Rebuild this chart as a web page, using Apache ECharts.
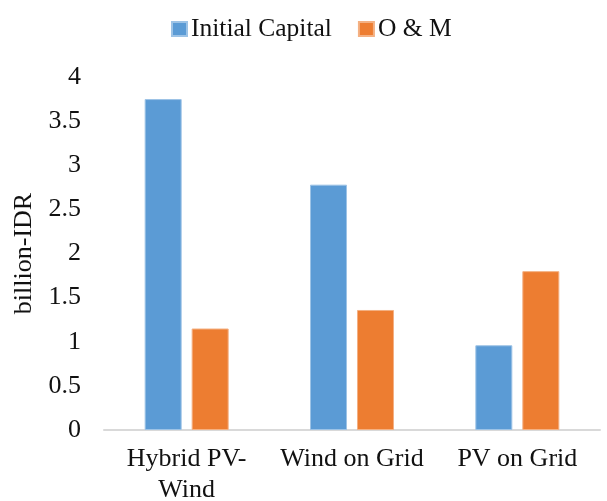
<!DOCTYPE html>
<html>
<head>
<meta charset="utf-8">
<script src="https://cdn.jsdelivr.net/npm/echarts@6/dist/echarts.min.js"></script>
<style>html,body{margin:0;padding:0;background:#fff;}#c{width:607px;height:501px;}</style>
</head>
<body>
<div id="c"></div>
<script>
var categories = ['Hybrid PV-\nWind', 'Wind on Grid', 'PV on Grid'];
var initialCapital = [3.75, 2.78, 0.96];
var oAndM = [1.15, 1.36, 1.80];
var yTicks = [0, 0.5, 1, 1.5, 2, 2.5, 3, 3.5, 4];

var chart = echarts.init(document.getElementById('c'));
var font = '"Liberation Serif", "Times New Roman", serif';
chart.setOption({
  animation: false,
  textStyle: {fontFamily: font},
  legend: {
    top: 11, left: 166,
    itemWidth: 15, itemHeight: 14, itemGap: 26,
    textStyle: {fontFamily: font, fontSize: 25.5, color: '#111', padding: [0, 0, 0, -1]},
    data: [{name: 'Initial Capital', icon: 'rect'}, {name: 'O & M', icon: 'rect'}]
  },
  grid: {left: 104, right: 7, top: 77, bottom: 71, containLabel: false, outerBoundsMode: 'none'},
  xAxis: {
    type: 'category',
    data: categories,
    axisLine: {lineStyle: {color: '#d9d9d9', width: 2}},
    axisTick: {show: false},
    axisLabel: {fontFamily: font, fontSize: 26, color: '#111', margin: 14, lineHeight: 31, interval: 0, hideOverlap: false}
  },
  yAxis: {
    type: 'value',
    min: yTicks[0], max: yTicks[yTicks.length - 1], interval: 0.5,
    name: 'billion-IDR',
    nameLocation: 'middle',
    nameGap: 62,
    nameTextStyle: {fontFamily: font, fontSize: 26, color: '#111'},
    axisLine: {show: false},
    axisTick: {show: false},
    splitLine: {show: false},
    axisLabel: {fontFamily: font, fontSize: 26, color: '#111', margin: 23}
  },
  series: [
    {name: 'Initial Capital', type: 'bar', data: initialCapital, barWidth: 37, barGap: '27%',
     itemStyle: {color: '#5b9bd5', borderColor: '#9dc3e6', borderWidth: 1}},
    {name: 'O & M', type: 'bar', data: oAndM, barWidth: 37,
     itemStyle: {color: '#ed7d31', borderColor: '#f4b183', borderWidth: 1}}
  ]
});
</script>
</body>
</html>
